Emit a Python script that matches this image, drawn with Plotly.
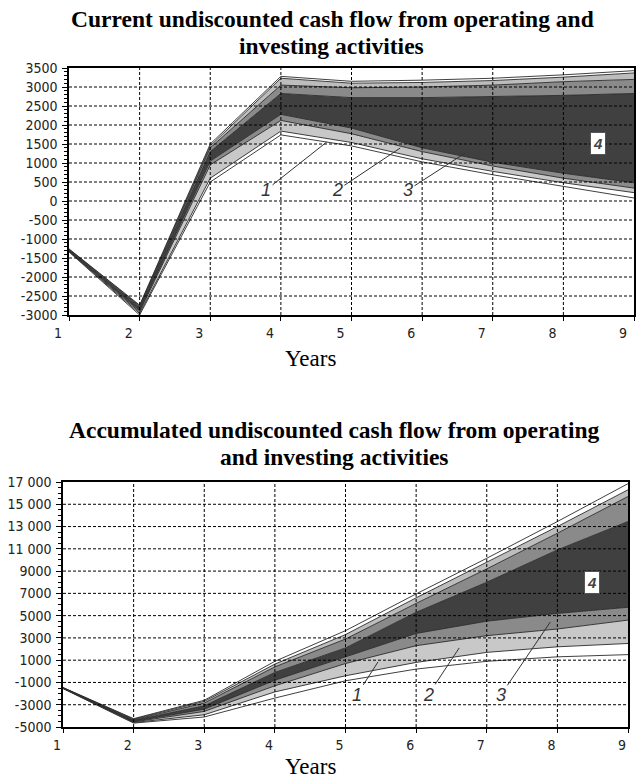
import plotly.graph_objects as go

years = [1, 2, 3, 4, 5, 6, 7, 8, 9]

# Current undiscounted cash flow: band boundary lines (bottom -> top)
cur_l0 = [-1340, -3000, 500, 1740, 1450, 1030, 690, 390, 80]
cur_l1 = [-1330, -2960, 600, 1840, 1540, 1110, 780, 480, 220]
cur_l2 = [-1320, -2920, 950, 2120, 1770, 1300, 920, 600, 340]
cur_l3 = [-1310, -2880, 1050, 2280, 1920, 1400, 1020, 730, 480]
cur_l4 = [-1290, -2800, 1300, 2830, 2720, 2720, 2750, 2780, 2830]
cur_l5 = [-1280, -2780, 1400, 3050, 2980, 3000, 3050, 3140, 3200]
cur_l6 = [-1270, -2760, 1450, 3230, 3100, 3120, 3170, 3260, 3370]
cur_l7 = [-1260, -2740, 1500, 3280, 3150, 3180, 3230, 3320, 3430]

# Accumulated undiscounted cash flow: band boundary lines (bottom -> top)
acc_l0 = [-1550, -4650, -4100, -2400, -850, 200, 900, 1300, 1500]
acc_l1 = [-1530, -4600, -3900, -1850, -400, 800, 1700, 2200, 2500]
acc_l2 = [-1510, -4550, -3600, -1300, 700, 2300, 3200, 3800, 4600]
acc_l3 = [-1500, -4500, -3400, -800, 1300, 3400, 4500, 5200, 5750]
acc_l4 = [-1490, -4400, -3100, -100, 2100, 5300, 8000, 10900, 13450]
acc_l5 = [-1480, -4350, -2850, 400, 2900, 6100, 9200, 12400, 15700]
acc_l6 = [-1470, -4300, -2700, 650, 3300, 6600, 9800, 13000, 16300]
acc_l7 = [-1450, -4250, -2600, 900, 3650, 6950, 10150, 13450, 16850]

cur_yticks = list(range(-3000, 3501, 500))
cur_yticktext = [str(v) for v in cur_yticks]
acc_yticks = list(range(-5000, 17001, 2000))
acc_yticktext = ["-5000", "-3000", "-1000", "1000", "3000", "5000", "7000",
                 "9000", "11 000", "13 000", "15 000", "17 000"]
xticktext = [str(y) for y in years]

band_fills = ["#ffffff", "#c8c8c8", "#8a8a8a", "#404040", "#8a8a8a", "#bdbdbd", "#ffffff"]

# band labels: (label, text x, text y, pointer x, pointer y)
cur_labels = [("1", 3.79, 290, 4.65, 1553), ("2", 4.80, 290, 5.69, 1395), ("3", 5.80, 290, 6.61, 1263)]
cur_box = ("4", 8.49, 1526)
acc_labels = [("1", 5.16, -2120, 5.46, 842), ("2", 6.17, -2120, 6.61, 2100), ("3", 7.20, -2120, 7.90, 4430)]
acc_box = ("4", 8.49, 8020)

W, H = 636, 778
def px(p):
    return p / W
def py(p):
    return 1 - p / H

fig = go.Figure()

def add_fan(lines, xa, ya):
    for i, ln in enumerate(lines):
        fig.add_trace(go.Scatter(
            x=years, y=ln, mode="lines",
            line=dict(color="#2a2a2a", width=0.9),
            fill=None if i == 0 else "tonexty",
            fillcolor=None if i == 0 else band_fills[i - 1],
            xaxis=xa, yaxis=ya, showlegend=False, hoverinfo="skip"))

add_fan([cur_l0, cur_l1, cur_l2, cur_l3, cur_l4, cur_l5, cur_l6, cur_l7], "x", "y")
add_fan([acc_l0, acc_l1, acc_l2, acc_l3, acc_l4, acc_l5, acc_l6, acc_l7], "x2", "y2")

tickfont = dict(family="Liberation Sans Narrow, DejaVu Sans Condensed, Arial Narrow, sans-serif",
                size=14, color="#222")
serif = "Liberation Serif, Times New Roman, serif"

def xaxis_cfg(dom, anchor, shift):
    return dict(domain=dom, anchor=anchor, range=[1, 9], tickmode="array",
                tickvals=years, ticktext=xticktext, ticks="outside", ticklen=4,
                tickcolor="black", tickfont=tickfont, ticklabelshift=shift,
                ticklabeloverflow="allow", automargin=False,
                showgrid=False, zeroline=False, showline=True, mirror=True,
                linecolor="black", linewidth=1.5, fixedrange=True)

def yaxis_cfg(dom, anchor, rng, tv, tt, mdt):
    return dict(domain=dom, anchor=anchor, range=rng, tickmode="array",
                tickvals=tv, ticktext=tt, ticks="outside", ticklen=5,
                tickcolor="black", tickfont=tickfont, ticklabelstandoff=2,
                ticklabeloverflow="allow", automargin=False,
                minor=dict(tickmode="linear", tick0=rng[0], dtick=mdt,
                           ticks="outside", ticklen=3, tickcolor="black", showgrid=False),
                showgrid=False, zeroline=False, showline=True, mirror=True,
                linecolor="black", linewidth=1.5, fixedrange=True)

fig.update_layout(
    width=W, height=H, margin=dict(l=0, r=0, t=0, b=0, pad=0, autoexpand=False),
    paper_bgcolor="white", plot_bgcolor="white",
    xaxis=xaxis_cfg([px(69), px(634)], "y", -11),
    yaxis=yaxis_cfg([py(315), py(68)], "x", [-3000, 3500], cur_yticks, cur_yticktext, 100),
    xaxis2=xaxis_cfg([px(63), px(628)], "y2", -6),
    yaxis2=yaxis_cfg([py(727), py(482)], "x2", [-5000, 17000], acc_yticks, acc_yticktext, 500),
)

# grid lines drawn above the filled bands
grid = dict(color="black", width=1, dash="3px,2px")
for xa, ya, yt in (("x", "y", cur_yticks), ("x2", "y2", acc_yticks)):
    for v in yt[1:-1]:
        fig.add_shape(type="line", xref=xa, yref=ya, x0=years[0], x1=years[-1], y0=v, y1=v,
                      line=grid, layer="above")
    for v in years[1:-1]:
        fig.add_shape(type="line", xref=xa, yref=ya, x0=v, x1=v, y0=yt[0], y1=yt[-1],
                      line=grid, layer="above")

anns = []
for xa, ya, labs, box in (("x", "y", cur_labels, cur_box), ("x2", "y2", acc_labels, acc_box)):
    for t, tx, ty, ex, ey in labs:
        anns.append(dict(xref=xa, yref=ya, axref=xa, ayref=ya, x=ex, y=ey, ax=tx, ay=ty,
                         text="<i>" + t + "</i>", showarrow=True, arrowhead=0, arrowwidth=1,
                         arrowcolor="#333", standoff=0,
                         font=dict(family="Liberation Sans, Arial, sans-serif", size=18, color="#333")))
    t, bx, by = box
    anns.append(dict(xref=xa, yref=ya, x=bx, y=by, text="<b><i>" + t + "</i></b>", showarrow=False,
                     bgcolor="white", bordercolor="#555", borderwidth=1, borderpad=2,
                     font=dict(family="Liberation Sans, Arial, sans-serif", size=15, color="#444")))

titles = [("Current undiscounted cash flow from operating and", 332, 19),
          ("investing activities", 331, 46),
          ("Accumulated undiscounted cash flow from operating", 334, 430),
          ("and investing activities", 334, 457)]
for t, x, y in titles:
    anns.append(dict(xref="paper", yref="paper", x=px(x), y=py(y), text="<b>" + t + "</b>",
                     showarrow=False, xanchor="center", yanchor="middle",
                     font=dict(family=serif, size=23.5, color="black")))
for y in (359, 766):
    anns.append(dict(xref="paper", yref="paper", x=px(310), y=py(y), text="Years",
                     showarrow=False, xanchor="center", yanchor="middle",
                     font=dict(family=serif, size=23, color="black")))

fig.update_layout(annotations=anns)
fig.write_html("out.html", config={"displayModeBar": False},
               post_script="document.body.style.margin='0';document.body.style.overflow='hidden';")
